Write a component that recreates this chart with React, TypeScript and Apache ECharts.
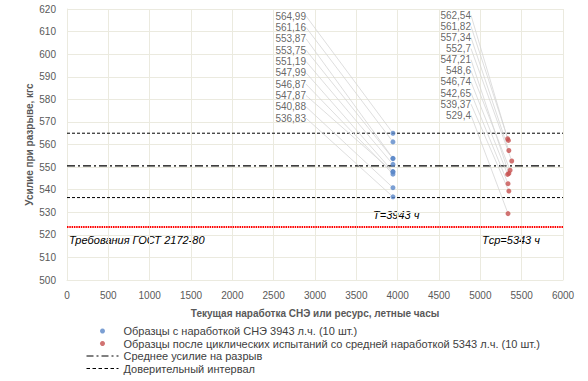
import React, { useEffect, useRef } from "react";
import * as echarts from "echarts";

const xTicks = { min: 0, max: 6000, interval: 500 };
const yTicks = { min: 500, max: 620, interval: 10 };

const blueX = 3943;
const blueValues = [564.99, 561.16, 553.87, 553.75, 551.19, 547.99, 546.87, 547.87, 540.88, 536.83];
const redX = [5330, 5340, 5345, 5380, 5345, 5360, 5330, 5335, 5345, 5335];
const redValues = [562.54, 561.82, 557.34, 552.7, 547.21, 548.6, 546.74, 542.65, 539.37, 529.4];

const meanValue = 550.5;
const upperCI = 565;
const lowerCI = 536.5;
const gostValue = 523.5;

const seriesNames = [
  "Образцы с наработкой СНЭ 3943 л.ч. (10 шт.)",
  "Образцы после циклических испытаний со средней наработкой 5343 л.ч. (10 шт.)",
  "Среднее усилие на разрыв",
  "Доверительный интервал",
];

const FONT = "Liberation Sans, Arial, sans-serif";
const GRID = "#ebeadf";

export default function App() {
  const ref = useRef<HTMLDivElement>(null);
  useEffect(() => {
    if (!ref.current) return;
    const chart = echarts.init(ref.current, null, { renderer: "svg" });
    const fmt = (p: any) => String(p.value[1]).replace(".", ",");
    const hline = (v: number) => [
      [xTicks.min, v],
      [xTicks.max, v],
    ];
    const labelCommon = {
      show: true,
      formatter: fmt,
      color: "#404040",
      fontSize: 10,
      fontFamily: FONT,
    };
    const labelLine = {
      show: true,
      lineStyle: { color: "#d6d6d6", width: 0.8 },
    };
    const hiddenSymbol = {
      color: "rgba(0,0,0,0)",
      borderColor: "rgba(0,0,0,0)",
      borderWidth: 0,
      opacity: 0,
    };
    chart.setOption({
      animation: false,
      textStyle: { fontFamily: FONT },
      grid: { left: 67, right: 25, top: 9, bottom: 101, containLabel: false },
      xAxis: {
        type: "value",
        min: xTicks.min,
        max: xTicks.max,
        interval: xTicks.interval,
        name: "Текущая наработка СНЭ или ресурс, летные часы",
        nameLocation: "middle",
        nameGap: 28,
        nameMoveOverlap: false,
        nameTextStyle: { fontWeight: "bold", color: "#595959", fontSize: 10, fontFamily: FONT },
        axisLine: { show: true, lineStyle: { color: GRID } },
        axisTick: { show: false },
        axisLabel: {
          color: "#595959",
          fontSize: 10,
          margin: 10,
          fontFamily: FONT,
          formatter: (v: number) => String(v),
        },
        splitLine: { show: true, lineStyle: { color: GRID, width: 1 } },
      },
      yAxis: {
        type: "value",
        min: yTicks.min,
        max: yTicks.max,
        interval: yTicks.interval,
        name: "Усилие при разрыве, кгс",
        nameLocation: "middle",
        nameGap: 33,
        nameMoveOverlap: false,
        nameTextStyle: { fontWeight: "bold", color: "#595959", fontSize: 10, fontFamily: FONT },
        axisLine: { show: true, lineStyle: { color: GRID } },
        axisTick: { show: false },
        axisLabel: {
          color: "#595959",
          fontSize: 10,
          margin: 11,
          fontFamily: FONT,
          formatter: (v: number) => String(v),
        },
        splitLine: { show: true, lineStyle: { color: GRID, width: 1 } },
      },
      legend: {
        orient: "vertical",
        left: 86,
        top: 325,
        padding: 0,
        itemWidth: 32,
        itemHeight: 5,
        itemGap: 0.5,
        textStyle: { color: "#404040", fontSize: 11, lineHeight: 12, fontFamily: FONT },
        data: [
          { name: seriesNames[0], icon: "circle" },
          { name: seriesNames[1], icon: "circle" },
          {
            name: seriesNames[2],
            itemStyle: hiddenSymbol,
            lineStyle: { width: 1, color: "#000000", type: [7, 3, 2, 3] },
          },
          {
            name: seriesNames[3],
            itemStyle: hiddenSymbol,
            lineStyle: { width: 1, color: "#000000", type: [3.5, 2.5] },
          },
        ],
      },
      series: [
        {
          name: "ГОСТ",
          type: "line",
          data: hline(gostValue),
          symbol: "none",
          lineStyle: { color: "#ff0000", width: 2, type: [1.5, 0.8] },
          z: 3,
        },
        {
          name: seriesNames[2],
          type: "line",
          data: hline(meanValue),
          symbol: "none",
          lineStyle: { color: "#000000", width: 1.2, type: [8, 3, 2, 3] },
          itemStyle: { color: "#000000" },
          z: 3,
        },
        {
          name: seriesNames[3],
          type: "line",
          data: hline(upperCI),
          symbol: "none",
          lineStyle: { color: "#000000", width: 1, type: [3, 2] },
          itemStyle: { color: "#000000" },
          z: 3,
        },
        {
          name: seriesNames[3],
          type: "line",
          data: hline(lowerCI),
          symbol: "none",
          lineStyle: { color: "#000000", width: 1, type: [3, 2] },
          itemStyle: { color: "#000000" },
          z: 3,
        },
        {
          name: seriesNames[0],
          type: "scatter",
          data: blueValues.map((v) => [blueX, v]),
          symbolSize: 5,
          itemStyle: { color: "#5a87c8" },
          label: labelCommon,
          labelLine,
          labelLayout: (p: any) => ({
            x: 306,
            y: 16 + p.dataIndex * 11.35,
            align: "right",
            verticalAlign: "middle",
          }),
          z: 5,
        },
        {
          name: seriesNames[1],
          type: "scatter",
          data: redValues.map((v, i) => [redX[i], v]),
          symbolSize: 5,
          itemStyle: { color: "#c5504f" },
          label: labelCommon,
          labelLine,
          labelLayout: (p: any) => ({
            x: 471,
            y: 15.3 + p.dataIndex * 11.1,
            align: "right",
            verticalAlign: "middle",
          }),
          z: 5,
        },
      ],
      graphic: [
        {
          type: "text",
          left: 373,
          top: 209,
          style: { text: "T=3943 ч", font: "italic 11px " + FONT, fill: "#000000" },
        },
        {
          type: "text",
          left: 482,
          top: 234,
          style: { text: "Tср=5343 ч", font: "italic 11px " + FONT, fill: "#000000" },
        },
        {
          type: "text",
          left: 69,
          top: 234,
          style: { text: "Требования ГОСТ 2172-80", font: "italic 11px " + FONT, fill: "#000000" },
        },
      ],
    });
    return () => chart.dispose();
  }, []);
  return <div ref={ref} style={{ width: 588, height: 381, position: "absolute", left: 0, top: 0 }} />;
}
